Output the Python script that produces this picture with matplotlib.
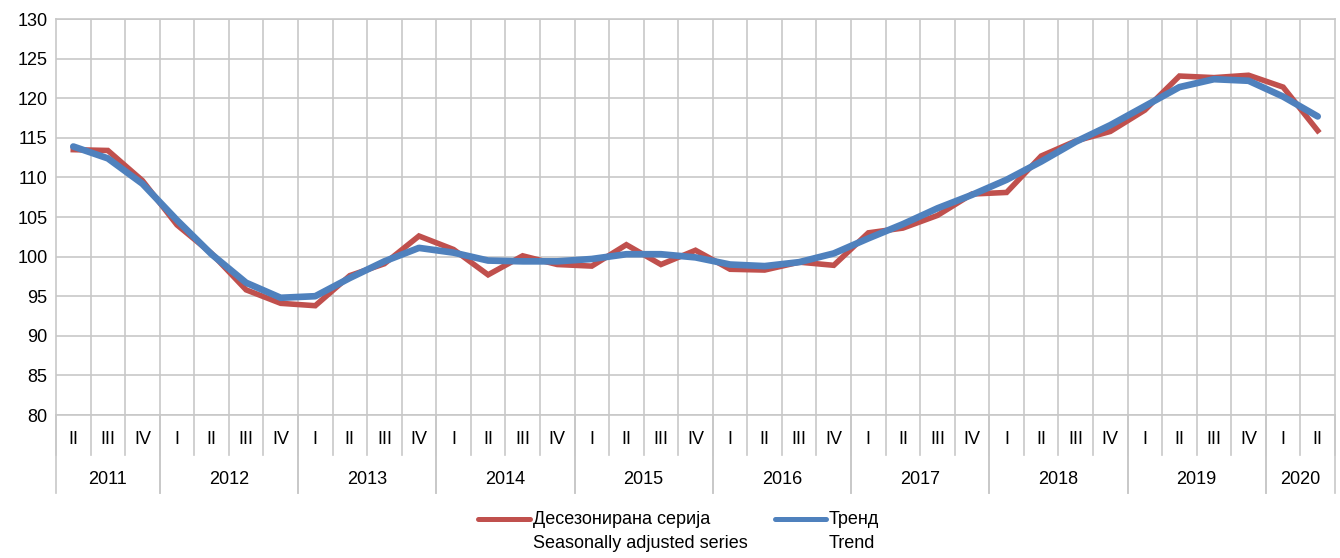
import matplotlib
matplotlib.use("Agg")
import matplotlib.pyplot as plt
from matplotlib.lines import Line2D

plt.rcParams['font.family'] = ['Liberation Sans Narrow', 'Liberation Sans', 'DejaVu Sans']

# quarters from 2011 Q2 to 2020 Q2
quarters = ["II", "III", "IV"] + ["I", "II", "III", "IV"] * 8 + ["I", "II"]
years = ["2011", "2012", "2013", "2014", "2015", "2016", "2017", "2018", "2019", "2020"]
year_counts = [3, 4, 4, 4, 4, 4, 4, 4, 4, 2]

seasonally_adjusted = [
    113.5, 113.4, 109.6,
    104.0, 100.4, 95.8, 94.1,
    93.8, 97.6, 99.1, 102.6,
    100.9, 97.7, 100.1, 99.0,
    98.8, 101.5, 99.0, 100.8,
    98.4, 98.3, 99.3, 98.9,
    103.0, 103.6, 105.2, 107.9,
    108.1, 112.7, 114.6, 115.8,
    118.5, 122.8, 122.6, 122.9,
    121.4, 115.9,
]
trend = [
    113.9, 112.4, 109.2,
    104.6, 100.3, 96.7, 94.8,
    95.0, 97.3, 99.4, 101.1,
    100.5, 99.5, 99.4, 99.4,
    99.7, 100.3, 100.3, 99.9,
    99.0, 98.8, 99.3, 100.4,
    102.3, 104.1, 106.1, 107.8,
    109.7, 112.0, 114.5, 116.6,
    119.0, 121.4, 122.4, 122.2,
    120.2, 117.7,
]

red = "#C0504D"
blue = "#4F81BD"
grid = "#C8C8C8"
fs = 13

W, H = 1340, 558
fig = plt.figure(figsize=(W / 100, H / 100), dpi=100)
left, right, top, bottom = 56, 1335, 19, 415
ax = fig.add_axes([left / W, 1 - bottom / H, (right - left) / W, (bottom - top) / H])

x = list(range(len(quarters)))
ax.plot(x, seasonally_adjusted, color=red, lw=4.0, solid_joinstyle="miter", zorder=3)
ax.plot(x, trend, color=blue, lw=4.8, solid_joinstyle="round", solid_capstyle="round", zorder=4)

ax.set_xlim(-0.5, len(quarters) - 0.5)
ax.set_ylim(80, 130)
ax.set_yticks(range(80, 131, 5))
ax.tick_params(axis="y", length=0, labelsize=fs, pad=6)
ax.set_xticks([])
for y in range(80, 131, 5):
    ax.axhline(y, color=grid, lw=1.2, zorder=1)
for b in range(1, len(quarters)):
    ax.axvline(b - 0.5, color=grid, lw=1.2, zorder=1)
for s in ax.spines.values():
    s.set_color(grid)
    s.set_linewidth(1.2)

# category axis below the plot: quarters then years
tr = ax.get_xaxis_transform()
ph = bottom - top
q_y = -(440 - bottom) / ph
q_sep = -(455 - bottom) / ph
y_y = -(480 - bottom) / ph
y_sep = -(493 - bottom) / ph

for i, q in enumerate(quarters):
    ax.text(i, q_y, q, transform=tr, ha="center", va="center", fontsize=fs, clip_on=False)
for b in range(0, len(quarters) + 1):
    ax.add_line(Line2D([b - 0.5, b - 0.5], [0, q_sep], transform=tr, color=grid,
                       lw=1.2, clip_on=False))

start = 0
for yr, n in zip(years, year_counts):
    ax.text(start + n / 2 - 0.5, y_y, yr, transform=tr, ha="center", va="center",
            fontsize=fs, clip_on=False)
    for b in (start, start + n):
        ax.add_line(Line2D([b - 0.5, b - 0.5], [0, y_sep], transform=tr, color=grid,
                           lw=1.2, clip_on=False))
    start += n

# legend drawn by hand, two lines of text per entry
def legend_entry(x0, x1, xt, color, top_text, bottom_text):
    fig.add_artist(Line2D([x0 / W, x1 / W], [1 - 519 / H, 1 - 519 / H], color=color,
                          lw=3.6, solid_capstyle="round"))
    fig.text(xt / W, 1 - 520 / H, top_text, ha="left", va="center", fontsize=fs)
    fig.text(xt / W, 1 - 544 / H, bottom_text, ha="left", va="center", fontsize=fs)

legend_entry(478, 530, 533, red, "Десезонирана серија", "Seasonally adjusted series")
legend_entry(775, 826, 829, blue, "Тренд", "Trend")

fig.savefig("out.png", dpi=100)
